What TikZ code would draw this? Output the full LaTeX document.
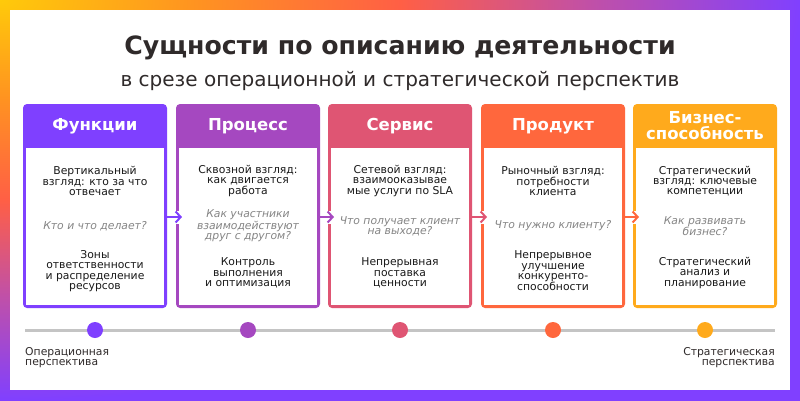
\documentclass[tikz,border=0pt]{standalone}
\usepackage{fontspec}
\setmainfont{DejaVu Sans}
\usetikzlibrary{arrows.meta}
\definecolor{funcol}{HTML}{7F40FF}
\definecolor{proccol}{HTML}{A548C0}
\definecolor{servcol}{HTML}{DF5573}
\definecolor{prodcol}{HTML}{FF673D}
\definecolor{bizcol}{HTML}{FFAA1C}
\definecolor{inkcol}{HTML}{2F2A2A}
\definecolor{askgray}{HTML}{858585}
\definecolor{axisgray}{HTML}{C4C4C4}
\definecolor{frameyel}{HTML}{FFCA0A}
\definecolor{frameorg}{HTML}{FF9420}
\definecolor{framered}{HTML}{FF5F45}
\definecolor{framemag}{HTML}{C050A8}
\definecolor{framevio}{HTML}{8040FF}
% path box = central 50bp, so 25bp = half of the shaded rectangle
\pgfdeclareradialshading{framefade}{\pgfpointorigin}{color(0bp)=(frameyel); color(6bp)=(frameorg); color(12.5bp)=(framered); color(18.5bp)=(framemag); color(25bp)=(framevio); color(40bp)=(framevio)}
\tikzset{
  card/.style={fill=#1, rounded corners=4pt, minimum width=144pt, minimum height=204pt, inner sep=0pt, outer sep=0pt},
  cardhead/.style={text=white, font=\fontsize{16.5}{16}\selectfont\bfseries, align=center, inner sep=0pt},
  viewtxt/.style={text=black!90, font=\fontsize{10.8}{10.3}\selectfont, align=center, inner sep=0pt},
  asktxt/.style={text=askgray, font=\fontsize{10.8}{10.3}\selectfont\itshape, align=center, inner sep=0pt},
  linkarrow/.style={draw=#1, line width=2pt, -{Straight Barb[length=5pt,width=11pt]}, shorten >=-6pt},
  dot/.style={circle, fill=#1, minimum size=16pt, inner sep=0pt},
  axisline/.style={draw=axisgray, line width=3pt},
  sidetxt/.style={text=inkcol, font=\fontsize{10.8}{10.3}\selectfont, inner sep=0pt}
}
\newcommand{\cardwhite}[1]% card node
{\fill[white] ([shift={(3,44)}]#1.north west) rectangle ([shift={(-3,-3)}]#1.south east);
}
\newcommand{\bordergap}[1]% card node
{\fill[white] ([shift={(-1,4.5)}]#1.west) rectangle ([shift={(4,17.5)}]#1.west);
}

\begin{document}
\begin{tikzpicture}[x=1pt,y=-1pt]
\useasboundingbox (0,0) rectangle (800,400);
% gradient frame
\begin{scope}
\clip (0,0) rectangle (800,400);
\shade[shading=framefade] (-800,-400) rectangle (800,400);
\end{scope}
\fill[white] (10,10) rectangle (790,390);
% heading
\node[text=inkcol, font=\fontsize{25.2}{25}\selectfont\bfseries, anchor=base, inner sep=0pt] (title) at (400,54) {Сущности по описанию деятельности};
\node[text=inkcol, font=\fontsize{20}{20}\selectfont, anchor=base, inner sep=0pt] (subtitle) at (400,86) {в срезе операционной и стратегической перспектив};
% cards
\node[card=funcol] (fun) at (95,206) {};
\node[card=proccol] (proc) at (248,206) {};
\node[card=servcol] (serv) at (400,206) {};
\node[card=prodcol] (prod) at (553,206) {};
\node[card=bizcol] (biz) at (705,206) {};
\cardwhite{fun}
\cardwhite{proc}
\cardwhite{serv}
\cardwhite{prod}
\cardwhite{biz}
\node[cardhead] (funtitle) at (95,126) {Функции};
\node[cardhead] (proctitle) at (248,126) {Процесс};
\node[cardhead] (servtitle) at (400,126) {Сервис};
\node[cardhead] (prodtitle) at (553,126) {Продукт};
\node[cardhead] (biztitle) at (705,126) {Бизнес-\\способность};
% card texts
\node[viewtxt] (funview) at (95,181) {Вертикальный\\взгляд: кто за что\\отвечает};
\node[asktxt] (funask) at (95,226) {Кто и что делает?};
\node[viewtxt] (funres) at (95,271) {Зоны\\ответственности\\и распределение\\ресурсов};
\node[viewtxt] (procview) at (248,181) {Сквозной взгляд:\\как двигается\\работа};
\node[asktxt] (procask) at (248,226) {Как участники\\взаимодействуют\\друг с другом?};
\node[viewtxt] (procres) at (248,273) {Контроль\\выполнения\\и оптимизация};
\node[viewtxt] (servview) at (400,181) {Сетевой взгляд:\\взаимооказывае\\мые услуги по SLA};
\node[asktxt] (servask) at (400,226) {Что получает клиент\\на выходе?};
\node[viewtxt] (servres) at (400,273) {Непрерывная\\поставка\\ценности};
\node[viewtxt] (prodview) at (553,181) {Рыночный взгляд:\\потребности\\клиента};
\node[asktxt] (prodask) at (553,226) {Что нужно клиенту?};
\node[viewtxt] (prodres) at (553,271) {Непрерывное\\улучшение\\конкуренто-\\способности};
\node[viewtxt] (bizview) at (705,181) {Стратегический\\взгляд: ключевые\\компетенции};
\node[asktxt] (bizask) at (705,226) {Как развивать\\бизнес?};
\node[viewtxt] (bizres) at (705,273) {Стратегический\\анализ и\\планирование};
% links between cards
\bordergap{proc}
\bordergap{serv}
\bordergap{prod}
\bordergap{biz}
\draw[linkarrow=funcol] ([yshift=-11pt]fun.east) -- ([yshift=-11pt]proc.west);
\draw[linkarrow=proccol] ([yshift=-11pt]proc.east) -- ([yshift=-11pt]serv.west);
\draw[linkarrow=servcol] ([yshift=-11pt]serv.east) -- ([yshift=-11pt]prod.west);
\draw[linkarrow=prodcol] ([yshift=-11pt]prod.east) -- ([yshift=-11pt]biz.west);
% perspective axis
\coordinate (axisstart) at (25,330);
\coordinate (axisend) at (775,330);
\draw[axisline] (axisstart) -- (axisend);
\node[dot=funcol] (fundot) at (fun |- axisstart) {};
\node[dot=proccol] (procdot) at (proc |- axisstart) {};
\node[dot=servcol] (servdot) at (serv |- axisstart) {};
\node[dot=prodcol] (proddot) at (prod |- axisstart) {};
\node[dot=bizcol] (bizdot) at (biz |- axisstart) {};
\node[sidetxt, anchor=north west, align=left] (oplabel) at (25,347) {Операционная\\перспектива};
\node[sidetxt, anchor=north east, align=right] (stlabel) at (775,347) {Стратегическая\\перспектива};
\end{tikzpicture}
\end{document}
